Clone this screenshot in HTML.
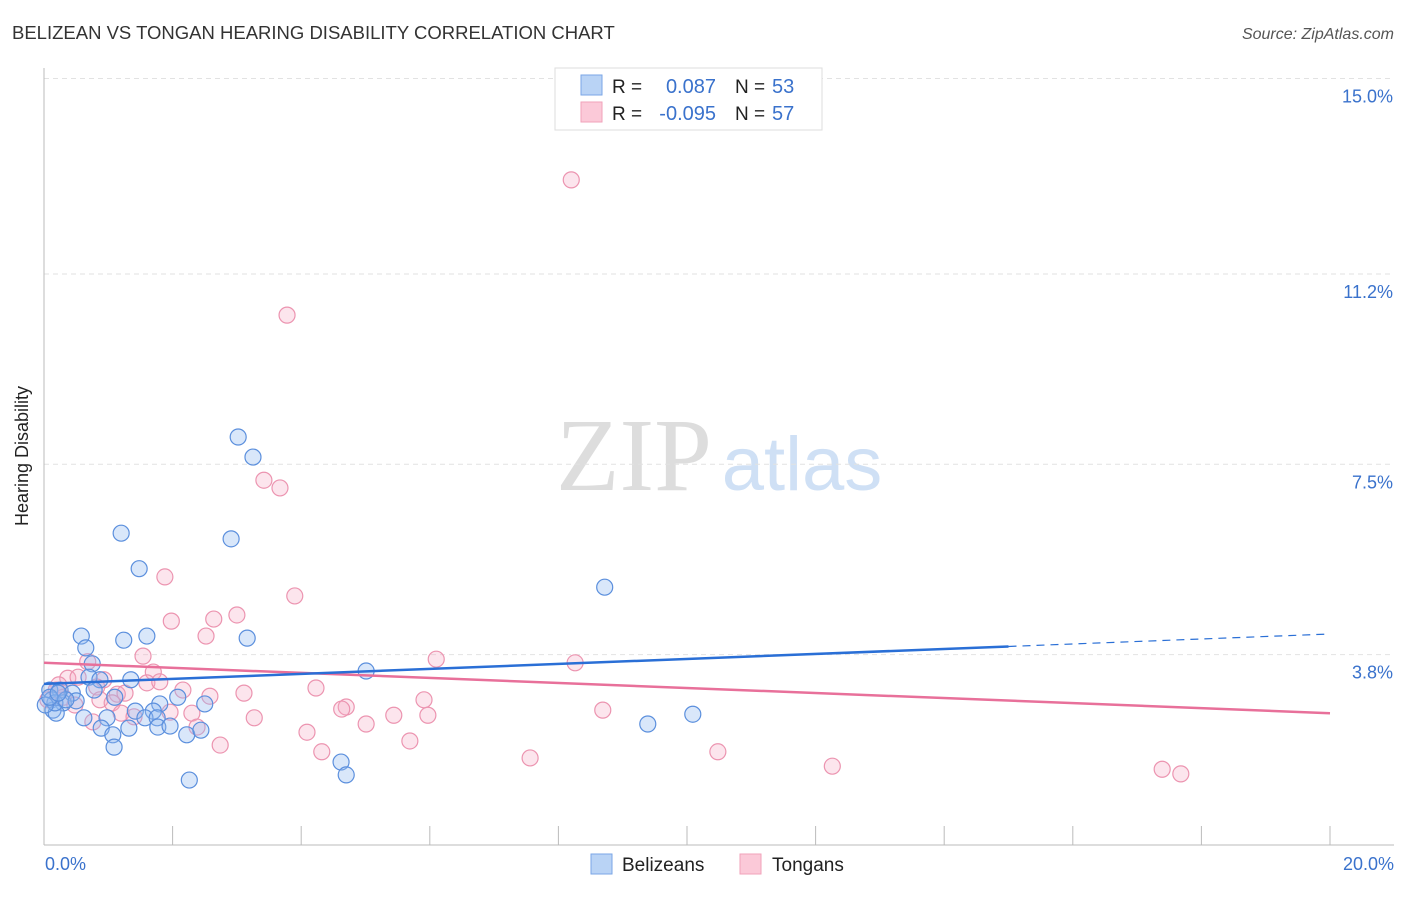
<!DOCTYPE html>
<html><head><meta charset="utf-8"><style>
body{margin:0;background:#fff;font-family:"Liberation Sans",sans-serif;}
</style></head><body>
<svg id="chart" width="1406" height="892" viewBox="0 0 1406 892" xmlns="http://www.w3.org/2000/svg" font-family="Liberation Sans, sans-serif">
<text x="12" y="39" font-size="18.5" fill="#333">BELIZEAN VS TONGAN HEARING DISABILITY CORRELATION CHART</text>
<text x="1394" y="39" font-size="16" fill="#555" font-style="italic" text-anchor="end">Source: ZipAtlas.com</text>
<text x="28" y="456" font-size="18" fill="#222" text-anchor="middle" transform="rotate(-90 28 456)">Hearing Disability</text>
<g>
<text x="634" y="490" font-size="104" fill="#ddd" font-family="Liberation Serif, serif" text-anchor="middle">ZIP</text>
<text x="802" y="490" font-size="76" fill="#cfe0f5" text-anchor="middle">atlas</text>
</g>
<g id="grid"></g>
<g id="axes"></g>
<g id="marks"></g>
<g>
<rect x="555" y="68" width="267" height="62" fill="#fff" stroke="#ddd"/>
<rect x="581" y="75" width="21" height="20" fill="#b9d3f5" stroke="#7aa6e6"/>
<rect x="581" y="102" width="21" height="20" fill="#fbc9d8" stroke="#f0a2ba"/>
<text x="612" y="93" font-size="19" fill="#222">R =</text>
<text x="716" y="93" font-size="20" fill="#3a72cc" text-anchor="end">0.087</text>
<text x="735" y="93" font-size="19" fill="#222">N =</text>
<text x="772" y="93" font-size="20" fill="#3a72cc">53</text>
<text x="612" y="120" font-size="19" fill="#222">R =</text>
<text x="716" y="120" font-size="20" fill="#3a72cc" text-anchor="end">-0.095</text>
<text x="735" y="120" font-size="19" fill="#222">N =</text>
<text x="772" y="120" font-size="20" fill="#3a72cc">57</text>
</g>
<g>
<rect x="591" y="854" width="21" height="20" fill="#b9d3f5" stroke="#7aa6e6"/>
<text x="622" y="871" font-size="19" fill="#222">Belizeans</text>
<rect x="740" y="854" width="21" height="20" fill="#fbc9d8" stroke="#f0a2ba"/>
<text x="772" y="871" font-size="19" fill="#222">Tongans</text>
</g>
</svg>
<script>
const blueX=[3.02,3.25,1.20,2.91,1.48,8.72,0.58,1.24,1.60,3.16,0.65,0.75,5.01,0.70,0.87,1.35,0.78,0.09,0.25,0.44,1.10,2.08,1.80,2.50,0.12,0.30,0.50,0.14,0.19,1.42,1.70,0.62,0.98,1.57,1.76,9.39,10.09,0.89,1.32,1.77,1.96,2.22,2.44,1.07,1.09,4.62,4.70,2.26,0.17,0.02,0.09,0.34,0.22];
const blueY=[8.03,7.64,6.16,6.05,5.47,5.11,4.16,4.08,4.16,4.12,3.93,3.62,3.48,3.36,3.31,3.31,3.11,3.11,3.11,3.05,2.97,2.97,2.84,2.84,2.92,2.86,2.90,2.72,2.66,2.70,2.70,2.57,2.57,2.57,2.57,2.45,2.64,2.37,2.37,2.39,2.41,2.24,2.33,2.24,2.00,1.71,1.46,1.36,2.86,2.82,2.97,2.92,3.05];
const pinkX=[8.20,3.78,3.42,3.67,1.88,3.90,3.00,2.64,1.98,2.52,1.54,8.26,6.10,0.68,1.70,0.37,0.53,0.93,1.60,1.80,0.23,0.82,1.14,1.26,2.58,3.11,4.23,2.16,5.91,4.70,4.63,8.69,0.87,1.06,1.20,1.96,2.30,3.27,5.01,5.44,5.97,0.76,2.38,4.09,2.74,5.69,4.32,10.48,7.56,12.26,17.39,17.68,0.19,0.06,0.48,0.30,1.40];
const pinkY=[13.03,10.40,7.19,7.04,5.31,4.94,4.57,4.49,4.45,4.16,3.77,3.64,3.71,3.66,3.46,3.34,3.36,3.31,3.25,3.27,3.21,3.17,3.03,3.05,2.99,3.05,3.15,3.11,2.92,2.78,2.74,2.72,2.92,2.86,2.66,2.68,2.66,2.57,2.45,2.62,2.62,2.49,2.39,2.29,2.04,2.12,1.91,1.91,1.79,1.63,1.57,1.48,3.11,2.92,2.82,2.97,2.59];
const blueTrend=[3.23,4.20];
const pinkTrend=[3.64,2.66];
const yTicks=[15.0,11.2,7.5,3.8];
const yTickLabels=["15.0%","11.2%","7.5%","3.8%"];
const xTickLabels=["0.0%","20.0%"];

const NS="http://www.w3.org/2000/svg";
const sx=v=>44+v*64.3;
const sy=v=>850-v*51.43;
function mk(tag,attrs,parent){const e=document.createElementNS(NS,tag);for(const k in attrs)e.setAttribute(k,attrs[k]);parent.appendChild(e);return e;}
const grid=document.getElementById('grid'),axes=document.getElementById('axes'),marks=document.getElementById('marks');
yTicks.forEach((t,i)=>{
 const l=mk('line',{x1:44,x2:1394,y1:sy(t),y2:sy(t),stroke:'#e2e2e2','stroke-dasharray':'5,4'},grid);
 
 
 const tx=mk('text',{x:1393,y:sy(t)+24,'font-size':18,fill:'#3a72cc','text-anchor':'end'},axes);
 tx.textContent=yTickLabels[i];
 
 
});
const ax=mk('line',{x1:44,x2:44,y1:68,y2:845,stroke:'#bbb'},axes);


const bx=mk('line',{x1:44,x2:1394,y1:845,y2:845,stroke:'#bbb'},axes);


for(let i=0;i<=10;i++){
 const t=mk('line',{x1:sx(i*2),x2:sx(i*2),y1:826,y2:845,stroke:'#bbb'},axes);
 
 
}
[[0,'start',45],[20,'end',1394]].forEach((p,i)=>{
 const t=mk('text',{x:p[2],y:870,'font-size':18,fill:'#3a72cc','text-anchor':p[1]},axes);
 t.textContent=xTickLabels[i];
 
 
});
function pts(X,Y,fill,stroke,name){X.forEach((x,i)=>{
 const c=mk('circle',{cx:sx(x),cy:sy(Y[i]),r:8,fill:fill,stroke:stroke,'stroke-width':1.2},marks);
 
 
});}
pts(pinkX,pinkY,'rgba(246,170,195,0.3)','#ec94b0','tongan-point');
pts(blueX,blueY,'rgba(147,187,240,0.35)','#5b8fdd','belizean-point');
const bAt=x=>blueTrend[0]+(blueTrend[1]-blueTrend[0])*x/20;
const pAt=x=>pinkTrend[0]+(pinkTrend[1]-pinkTrend[0])*x/20;
const pl=mk('line',{x1:sx(0),y1:sy(pAt(0)),x2:sx(20),y2:sy(pAt(20)),stroke:'#e8709a','stroke-width':2.5},marks);


const bl=mk('line',{x1:sx(0),y1:sy(bAt(0)),x2:sx(15),y2:sy(bAt(15)),stroke:'#2a6fd6','stroke-width':2.5},marks);


const bd=mk('line',{x1:sx(15),y1:sy(bAt(15)),x2:sx(20),y2:sy(bAt(20)),stroke:'#2a6fd6','stroke-width':1.2,'stroke-dasharray':'8,6'},marks);


</script>
</body></html>
